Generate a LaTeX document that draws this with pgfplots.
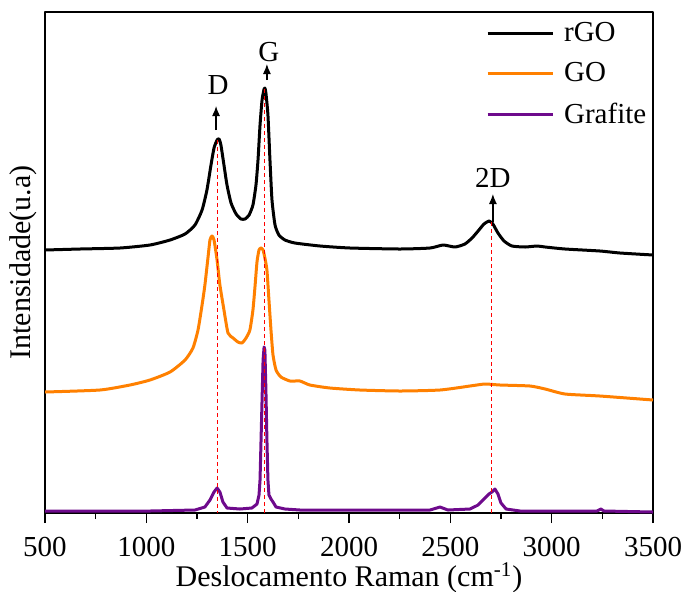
\documentclass[border=0pt]{standalone}
\usepackage{fontspec}
\setmainfont{Liberation Serif}
\usepackage{pgfplots}
\pgfplotsset{compat=1.18}
\usetikzlibrary{arrows.meta}
\definecolor{cOrange}{RGB}{255,128,0}
\definecolor{cPurple}{RGB}{110,10,140}
\begin{document}
\begin{tikzpicture}
\useasboundingbox (-22.5pt,-39pt) rectangle (321.5pt,256.5pt);
\begin{axis}[
  scale only axis,
  width=304pt, height=250.5pt,
  xmin=500, xmax=3500, ymin=0, ymax=501,
  axis line style={line width=0.8pt},
  xtick={500,1000,...,3500},
  minor x tick num=1,
  xtick pos=bottom,
  ytick=\empty,
  tick align=outside,
  major tick length=5pt, minor tick length=3pt,
  every tick/.style={black, line width=0.8pt},
  /pgf/number format/assume math mode=true,
  /pgf/number format/1000 sep={},
  xticklabel style={font=\fontsize{14.5}{16}\selectfont, inner sep=1pt, yshift=-5.9pt},
  xlabel={Deslocamento Raman (cm\textsuperscript{-1})},
  ylabel={Intensidade(u.a)},
  label style={font=\fontsize{15}{17}\selectfont},
  xlabel style={inner sep=1pt, yshift=-0.6pt},
  ylabel style={yshift=-4.5pt},
  legend style={at={(0.715,0.996)}, anchor=north west, draw=none, fill=none,
    font=\fontsize{14.5}{16}\selectfont, row sep=5pt},
  legend cell align=left,
  legend image code/.code={\draw[#1] (0pt,0pt) -- (32.5pt,0pt); \path (35.5pt,0pt);},
  line join=round,
]
\addplot[black, line width=1.5pt, smooth, tension=0.35] coordinates {
(500,263) (673,264) (870,265) (1018,268) (1117,273) (1191,279) (1240,288) (1275,303)
(1299,323) (1319,348) (1334,365) (1349,373) (1359,374) (1368,368) (1383,348) (1398,328)
(1418,310) (1443,299) (1467,294) (1487,294) (1507,298) (1526,308) (1541,328) (1551,353)
(1561,388) (1571,413) (1581,424) (1585,425) (1590,420) (1600,398) (1610,353) (1620,313)
(1635,288) (1654,278) (1684,273) (1733,270) (1857,267) (2005,265) (2252,264) (2400,265)
(2464,268) (2523,266) (2572,269) (2607,275) (2637,282) (2666,289) (2691,292) (2710,289)
(2735,280) (2765,272) (2804,267) (2869,266) (2928,267) (2968,266) (3066,264) (3238,262)
(3337,260) (3500,258)
};
\addlegendentry{rGO}
\addplot[cOrange, line width=1.5pt, smooth, tension=0.35] coordinates {
(500,121) (771,123) (919,128) (1018,133) (1117,141) (1191,153) (1230,165) (1255,183)
(1275,208) (1289,228) (1304,255) (1314,273) (1324,277) (1334,273) (1349,253) (1363,228)
(1383,203) (1403,180) (1428,175) (1452,171) (1472,170) (1492,175) (1511,183) (1526,203)
(1536,226) (1546,251) (1556,263) (1566,265) (1576,263) (1585,255) (1595,243) (1605,213)
(1615,183) (1625,158) (1640,143) (1664,136) (1709,132) (1758,132) (1807,128) (1906,125)
(2054,123) (2252,122) (2449,123) (2597,127) (2671,129) (2745,128) (2893,127) (2968,124)
(3066,119) (3238,117) (3500,113)
};
\addlegendentry{GO}
\addplot[cPurple, line width=1.5pt] coordinates {
(500,2) (1018,2) (1240,3) (1289,6) (1314,13) (1334,21) (1349,25) (1363,21) (1378,11)
(1398,5) (1462,4) (1521,5) (1546,9) (1556,18) (1561,33) (1566,73) (1571,113) (1576,153)
(1581,166) (1585,163) (1590,123) (1595,73) (1600,33) (1605,18) (1615,14) (1625,11)
(1640,6) (1684,4) (1758,3) (2400,3) (2449,6) (2488,3) (2597,4) (2637,8) (2666,14)
(2691,19) (2705,21) (2720,24) (2735,19) (2750,10) (2775,4) (2844,2) (3224,2) (3243,4)
(3258,2) (3500,1)
};
\addlegendentry{Grafite}
% dashed guide lines
\addplot[red, line width=0.75pt, dash pattern=on 2pt off 1.5pt, forget plot] coordinates {(1350,373) (1350,0)};
\addplot[red, line width=0.75pt, dash pattern=on 2pt off 1.5pt, forget plot] coordinates {(1582,424) (1582,0)};
\addplot[red, line width=0.75pt, dash pattern=on 2pt off 1.5pt, forget plot] coordinates {(2704,291) (2704,0)};
% arrows and labels
\draw[-{Latex[length=5pt,width=4pt]}, line width=0.6pt] (axis cs:1344,383) -- (axis cs:1344,407);
\draw[-{Latex[length=5pt,width=4pt]}, line width=0.6pt] (axis cs:1595,433) -- (axis cs:1595,449);
\draw[-{Latex[length=5pt,width=4pt]}, line width=0.6pt] (axis cs:2710,291) -- (axis cs:2710,319);
\node[font=\fontsize{14.5}{16}\selectfont] at (axis cs:1354,428) {D};
\node[font=\fontsize{14.5}{16}\selectfont] at (axis cs:1605,461) {G};
\node[font=\fontsize{14.5}{16}\selectfont] at (axis cs:2710,335) {2D};
\end{axis}
\end{tikzpicture}
\end{document}
